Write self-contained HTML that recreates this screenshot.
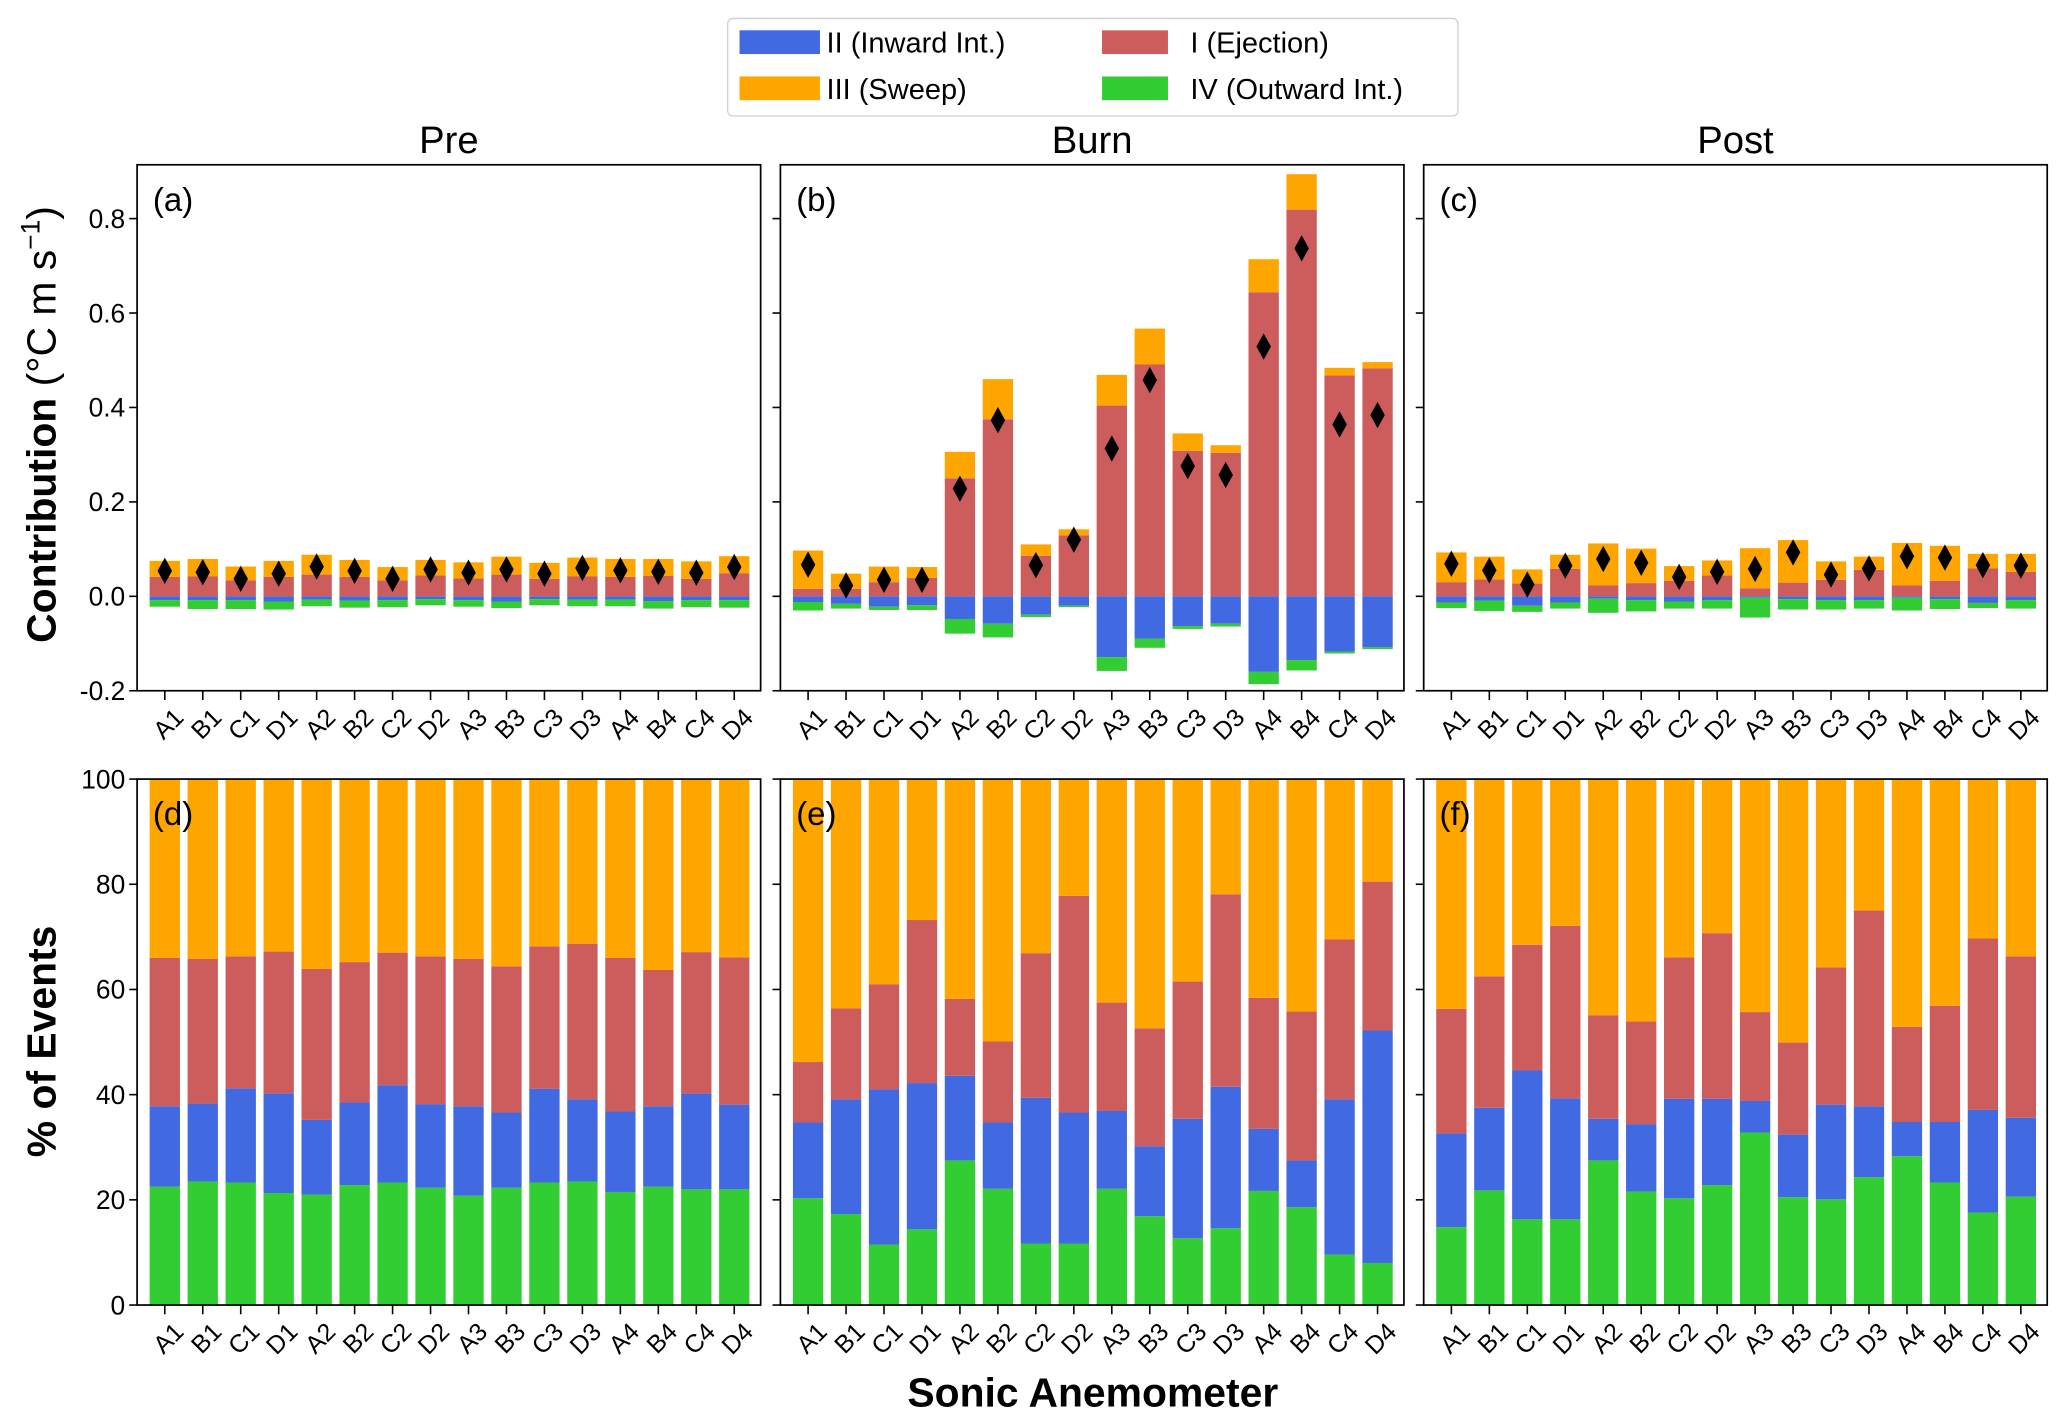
<!DOCTYPE html>
<html><head><meta charset="utf-8"><style>
html,body{margin:0;padding:0;background:#fff;}
svg{display:block;font-family:"Liberation Sans","DejaVu Sans",sans-serif;}
</style></head><body>
<svg id="chart" width="2067" height="1425" viewBox="0 0 1568 1081" xmlns="http://www.w3.org/2000/svg">
<g id="legend">
<rect x="552" y="14" width="554" height="74" rx="4" fill="#fff" stroke="#d0d0d0" stroke-width="1"/>
<g><rect x="561" y="23" width="61" height="18" fill="#4169e1"/><text x="627" y="40" font-size="22">II (Inward Int.)</text></g>
<g><rect x="836" y="23" width="50" height="18" fill="#cd5c5c"/><text x="903" y="40" font-size="22">I (Ejection)</text></g>
<g><rect x="561" y="58" width="61" height="18" fill="#ffa500"/><text x="627" y="75" font-size="22">III (Sweep)</text></g>
<g><rect x="836" y="58" width="50" height="18" fill="#32cd32"/><text x="903" y="75" font-size="22">IV (Outward Int.)</text></g>
</g>
<text transform="translate(42,322) rotate(-90)" text-anchor="middle" font-size="31"><tspan font-weight="bold">Contribution</tspan> (°C m s<tspan font-size="20" dy="-12">−1</tspan><tspan dy="12">)</tspan></text>
<text transform="translate(42,790) rotate(-90)" text-anchor="middle" font-size="31" font-weight="bold">% of Events</text>
<text x="829" y="1067" text-anchor="middle" font-size="31" font-weight="bold">Sonic Anemometer</text>
</svg>
<script>
const categories=["A1","B1","C1","D1","A2","B2","C2","D2","A3","B3","C3","D3","A4","B4","C4","D4"];
const periods=["Pre","Burn","Post"];
const panelLetters=["(a)","(b)","(c)","(d)","(e)","(f)"];
const contribTicks=[-0.2,0.0,0.2,0.4,0.6,0.8];
const contribTickLabels=["-0.2","0.0","0.2","0.4","0.6","0.8"];
const pctTicks=[0,20,40,60,80,100];
const pctTickLabels=["0","20","40","60","80","100"];
// Contribution: I (ejection, +), III sweep (+ stacked on I), II inward (- from 0), IV outward (- below II), net diamond
const preI=[0.041,0.042,0.034,0.041,0.046,0.041,0.034,0.044,0.038,0.046,0.037,0.042,0.041,0.043,0.037,0.049];
const preIII=[0.034,0.037,0.029,0.034,0.042,0.036,0.028,0.033,0.034,0.038,0.034,0.040,0.038,0.036,0.037,0.036];
const preII=[-0.008,-0.008,-0.008,-0.011,-0.007,-0.009,-0.008,-0.006,-0.008,-0.011,-0.006,-0.007,-0.007,-0.010,-0.008,-0.008];
const preIV=[-0.014,-0.019,-0.019,-0.017,-0.014,-0.015,-0.015,-0.013,-0.014,-0.014,-0.013,-0.014,-0.014,-0.016,-0.015,-0.016];
const preNet=[0.054,0.051,0.037,0.048,0.063,0.054,0.037,0.057,0.050,0.057,0.048,0.060,0.055,0.052,0.050,0.062];
const burnI=[0.016,0.016,0.030,0.039,0.250,0.375,0.086,0.129,0.404,0.491,0.308,0.304,0.644,0.819,0.468,0.483];
const burnIII=[0.081,0.032,0.033,0.023,0.056,0.085,0.024,0.013,0.065,0.076,0.037,0.016,0.070,0.075,0.016,0.013];
const burnII=[-0.012,-0.016,-0.022,-0.019,-0.048,-0.058,-0.039,-0.020,-0.129,-0.090,-0.063,-0.058,-0.160,-0.135,-0.117,-0.108];
const burnIV=[-0.018,-0.010,-0.007,-0.010,-0.031,-0.029,-0.005,-0.003,-0.029,-0.019,-0.006,-0.006,-0.026,-0.022,-0.004,-0.004];
const burnNet=[0.067,0.023,0.035,0.035,0.228,0.373,0.066,0.120,0.313,0.458,0.276,0.257,0.529,0.737,0.364,0.384];
const postI=[0.030,0.036,0.027,0.058,0.023,0.028,0.033,0.044,0.017,0.029,0.035,0.056,0.023,0.033,0.059,0.052];
const postIII=[0.063,0.048,0.030,0.030,0.089,0.073,0.031,0.032,0.085,0.090,0.039,0.028,0.090,0.074,0.031,0.038];
const postII=[-0.013,-0.009,-0.020,-0.013,-0.005,-0.008,-0.011,-0.008,-0.003,-0.006,-0.008,-0.008,-0.003,-0.006,-0.014,-0.008];
const postIV=[-0.012,-0.022,-0.013,-0.013,-0.030,-0.024,-0.015,-0.018,-0.042,-0.022,-0.020,-0.018,-0.027,-0.021,-0.011,-0.018];
const postNet=[0.069,0.055,0.025,0.065,0.079,0.071,0.041,0.052,0.058,0.093,0.046,0.059,0.085,0.082,0.066,0.065];
// Percent of events (cumulative boundaries: IV top, II top, I top; III fills to 100)
const prePctIV=[22.5,23.5,23.3,21.3,21.0,22.8,23.3,22.3,20.8,22.3,23.3,23.5,21.5,22.5,22.0,22.0];
const prePctII=[15.3,14.8,17.9,18.9,14.2,15.7,18.5,15.9,17.0,14.3,17.8,15.6,15.3,15.3,18.2,16.1];
const prePctI=[28.2,27.5,25.1,27.0,28.7,26.7,25.2,28.1,28.0,27.8,27.1,29.6,29.2,25.9,26.9,28.0];
const burnPctIV=[20.3,17.3,11.5,14.4,27.5,22.1,11.7,11.7,22.1,16.9,12.7,14.6,21.7,18.6,9.6,8.0];
const burnPctII=[14.4,21.8,29.5,27.8,16.1,12.6,27.7,24.9,14.8,13.3,22.7,26.9,11.8,8.9,29.5,44.2];
const burnPctI=[11.5,17.3,20.0,31.0,14.6,15.4,27.5,41.2,20.6,22.4,26.1,36.6,24.9,28.3,30.4,28.3];
const postPctIV=[14.8,21.8,16.3,16.3,27.5,21.6,20.3,22.8,32.8,20.5,20.1,24.3,28.3,23.3,17.6,20.6];
const postPctII=[17.8,15.7,28.3,23.0,7.9,12.8,18.9,16.4,6.0,11.9,18.0,13.5,6.5,11.5,19.5,15.0];
const postPctI=[23.7,25.0,23.9,32.8,19.7,19.5,26.9,31.5,16.9,17.5,26.1,37.2,18.1,22.1,32.6,30.7];

const NS="http://www.w3.org/2000/svg";
const svg=document.getElementById('chart');
const C={I:"#cd5c5c",II:"#4169e1",III:"#ffa500",IV:"#32cd32"};
const panelX=[104,592,1080], panelW=473;
const topY0=125, topY1=524, botY0=591, botY1=990;
const cMin=-0.2,cMax=0.914;
function el(tag,attrs,parent){const e=document.createElementNS(NS,tag);for(const k in attrs)e.setAttribute(k,attrs[k]);(parent||svg).appendChild(e);return e;}
function xScale(p,i){const step=28.8;return panelX[p]+21+i*step;}
const barW=23;
function yC(v){return topY1-(v-cMin)/(cMax-cMin)*(topY1-topY0);}
function yP(v){return botY1-v/100*(botY1-botY0);}

const contrib=[[preI,preIII,preII,preIV,preNet],[burnI,burnIII,burnII,burnIV,burnNet],[postI,postIII,postII,postIV,postNet]];
const pct=[[prePctIV,prePctII,prePctI],[burnPctIV,burnPctII,burnPctI],[postPctIV,postPctII,postPctI]];

function xTicks(p,yBase,g){
  categories.forEach((c,i)=>{
    const x=xScale(p,i);
    const t=el('line',{x1:x,x2:x,y1:yBase,y2:yBase+7,stroke:'#000','stroke-width':1.2},g);
    
    
    const lb=el('text',{transform:`translate(${x+6},${yBase+12}) rotate(-45)`,'text-anchor':'end','dominant-baseline':'hanging','font-size':19},g);
    
    
    lb.textContent=c;
  });
}

for(let p=0;p<3;p++){
  // top panel
  const g=el('g',{});
  
  
  const ttl=el('text',{x:panelX[p]+panelW/2,y:116,'text-anchor':'middle','font-size':29},g);
  
  
  ttl.textContent=periods[p];
  const [I,III,II,IV,N]=contrib[p];
  categories.forEach((c,i)=>{
    const x=xScale(p,i)-barW/2;
    const z=yC(0);
    const segs=[[0,I[i],C.I,'bar-ejection'],[I[i],I[i]+III[i],C.III,'bar-sweep'],[II[i],0,C.II,'bar-inward'],[II[i]+IV[i],II[i],C.IV,'bar-outward']];
    segs.forEach(s=>{
      const y1=yC(s[1]),y2=yC(s[0]);
      const r=el('rect',{x:x,y:y1,width:barW,height:Math.max(0,y2-y1),fill:s[2]},g);
      
      
    });
    const cx=xScale(p,i),cy=yC(N[i]);
    const d=el('polygon',{points:`${cx},${cy-10} ${cx+5.5},${cy} ${cx},${cy+10} ${cx-5.5},${cy}`,fill:'#000'},g);
    
    
  });
  const fr=el('rect',{x:panelX[p],y:topY0,width:panelW,height:topY1-topY0,fill:'none',stroke:'#000','stroke-width':1.3},g);
  
  
  const lab=el('text',{x:panelX[p]+12,y:160,'font-size':25},g);
  
  
  lab.textContent=panelLetters[p];
  contribTicks.forEach((v,k)=>{
    const y=yC(v);
    const t=el('line',{x1:panelX[p]-6,x2:panelX[p],y1:y,y2:y,stroke:'#000','stroke-width':1.2},g);
    
    
    if(p===0){
      const tl=el('text',{x:panelX[p]-9,y:y+7,'text-anchor':'end','font-size':20},g);
      
      
      tl.textContent=contribTickLabels[k];
    }
  });
  xTicks(p,topY1,g);

  // bottom panel
  const g2=el('g',{});
  
  
  const [pIV,pII,pI]=pct[p];
  categories.forEach((c,i)=>{
    const x=xScale(p,i)-barW/2;
    const b1=pIV[i],b2=b1+pII[i],b3=b2+pI[i];
    const segs=[[0,b1,C.IV,'pct-outward'],[b1,b2,C.II,'pct-inward'],[b2,b3,C.I,'pct-ejection'],[b3,100,C.III,'pct-sweep']];
    segs.forEach(s=>{
      const y1=yP(s[1]),y2=yP(s[0]);
      const r=el('rect',{x:x,y:y1,width:barW,height:Math.max(0,y2-y1),fill:s[2]},g2);
      
      
    });
  });
  const fr2=el('rect',{x:panelX[p],y:botY0,width:panelW,height:botY1-botY0,fill:'none',stroke:'#000','stroke-width':1.3},g2);
  
  
  const lab2=el('text',{x:panelX[p]+12,y:626,'font-size':25},g2);
  
  
  lab2.textContent=panelLetters[p+3];
  pctTicks.forEach((v,k)=>{
    const y=yP(v);
    const t=el('line',{x1:panelX[p]-6,x2:panelX[p],y1:y,y2:y,stroke:'#000','stroke-width':1.2},g2);
    
    
    if(p===0){
      const tl=el('text',{x:panelX[p]-9,y:y+7,'text-anchor':'end','font-size':20},g2);
      
      
      tl.textContent=pctTickLabels[k];
    }
  });
  xTicks(p,botY1,g2);
}
</script>
</body></html>
